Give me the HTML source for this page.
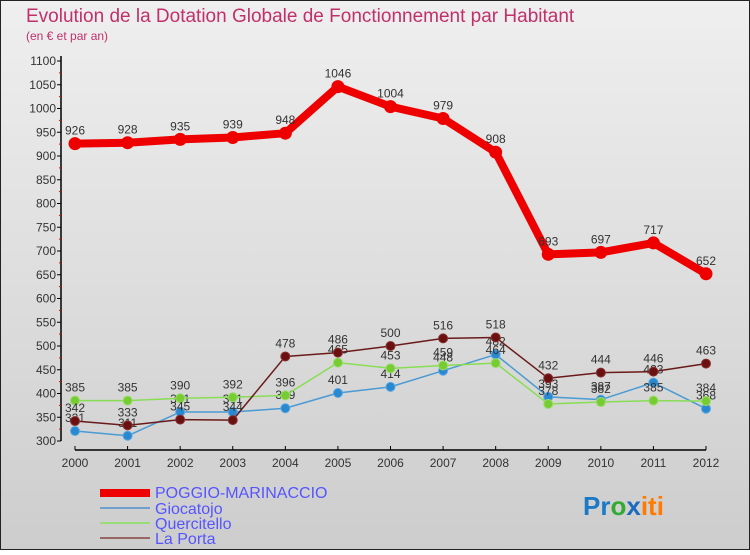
<!DOCTYPE html>
<html><head><meta charset="utf-8"><style>
body{margin:0;width:750px;height:550px;overflow:hidden;font-family:"Liberation Sans",sans-serif;}
svg text{font-family:"Liberation Sans",sans-serif;}
</style></head><body>
<svg id="c" width="750" height="550" xmlns="http://www.w3.org/2000/svg">
<defs><linearGradient id="bg" x1="0" y1="0" x2="0" y2="1"><stop offset="0" stop-color="#efefef"/><stop offset="1" stop-color="#cdcdcd"/></linearGradient></defs>
<rect x="0.5" y="0.5" width="749" height="549" fill="url(#bg)" stroke="#222"/>
<text x="26" y="22" font-size="19" fill="#c0306a">Evolution de la Dotation Globale de Fonctionnement par Habitant</text>
<text x="26" y="40" font-size="12" fill="#c0306a">(en € et par an)</text>
<g id="axes"></g><g id="series"></g>
<g>
<rect x="100" y="489" width="50" height="8" fill="#ee0000"/>
<text x="155" y="498" font-size="16" fill="#5555ff">POGGIO-MARINACCIO</text>
<line x1="100" y1="508" x2="150" y2="508" stroke="#6fa0cc" stroke-width="2"/>
<text x="155" y="514" font-size="16" fill="#5555ff">Giocatojo</text>
<line x1="100" y1="523" x2="150" y2="523" stroke="#99dd77" stroke-width="2"/>
<text x="155" y="529" font-size="16" fill="#5555ff">Quercitello</text>
<line x1="100" y1="538" x2="150" y2="538" stroke="#996666" stroke-width="2"/>
<text x="155" y="544" font-size="16" fill="#5555ff">La Porta</text>
</g>
<text x="583" y="515" font-size="26" font-weight="bold"><tspan fill="#1a7ac8">Pr</tspan><tspan fill="#33aa33">o</tspan><tspan fill="#1a6ac0">x</tspan><tspan fill="#ff7a00">iti</tspan></text>
</svg>
<script>
const years=[2000,2001,2002,2003,2004,2005,2006,2007,2008,2009,2010,2011,2012];
const poggio=[926,928,935,939,948,1046,1004,979,908,693,697,717,652];
const giocatojo=[321,311,361,361,369,401,414,448,482,393,387,423,368];
const quercitello=[385,385,390,392,396,465,453,459,464,378,382,385,384];
const laPorta=[342,333,345,344,478,486,500,516,518,432,444,446,463];
const yTicks=[300,350,400,450,500,550,600,650,700,750,800,850,900,950,1000,1050,1100];
const NS="http://www.w3.org/2000/svg";
const X=i=>75+i*(706-75)/(years.length-1);
const Y=v=>441-(v-300)*(441-61)/800;
function mk(t,a,p){const e=document.createElementNS(NS,t);for(const k in a)e.setAttribute(k,a[k]);p.appendChild(e);return e;}
const ax=document.getElementById('axes');
let l=mk('line',{x1:61,y1:56,x2:61,y2:441,stroke:'#000','stroke-width':1.5},ax);


l=mk('line',{x1:75,y1:450,x2:706,y2:450,stroke:'#000','stroke-width':1.5},ax);


yTicks.forEach((v,i)=>{
 mk('line',{x1:57,y1:Y(v),x2:61,y2:Y(v),stroke:'#000'},ax);
 if(i<yTicks.length-1)mk('line',{x1:59,y1:Y(v+25),x2:61,y2:Y(v+25),stroke:'#e00'},ax);
 const t=mk('text',{x:56,y:Y(v)+4,'font-size':12,'text-anchor':'end',fill:'#333'},ax);
 t.textContent=v;
 
 
});
years.forEach((y,i)=>{
 mk('line',{x1:X(i),y1:446,x2:X(i),y2:450,stroke:'#000'},ax);
 const t=mk('text',{x:X(i),y:467,'font-size':12,'text-anchor':'middle',fill:'#333'},ax);
 t.textContent=y;
 
 
});
const sg=document.getElementById('series');
function series(vals,color,w,r,name,dot,dotStroke){
 const g=mk('g',{},sg);
 
 
 const p=mk('polyline',{points:vals.map((v,i)=>X(i)+','+Y(v)).join(' '),fill:'none',stroke:color,'stroke-width':w,'stroke-linejoin':'round'},g);
 
 
 vals.forEach((v,i)=>{
  const c=mk('circle',{cx:X(i),cy:Y(v),r:r,fill:dot,stroke:dotStroke,'stroke-width':1},g);
  
  
  const t=mk('text',{x:X(i),y:Y(v)-9,'font-size':12,'text-anchor':'middle',fill:'#333'},g);
  t.textContent=v;
  
  
 });
}
series(giocatojo,'#4a9ad4',1.5,4.5,'giocatojo','#2a88d0','#5aa8e0');
series(quercitello,'#88dd55',1.5,4.5,'quercitello','#77cc33','#99dd66');
series(laPorta,'#6a1a1a',1.5,4.5,'la-porta','#6a1010','#883333');
series(poggio,'#ee0000',8,6,'poggio-marinaccio','#ee0000','#ee0000');
</script>
</body></html>
